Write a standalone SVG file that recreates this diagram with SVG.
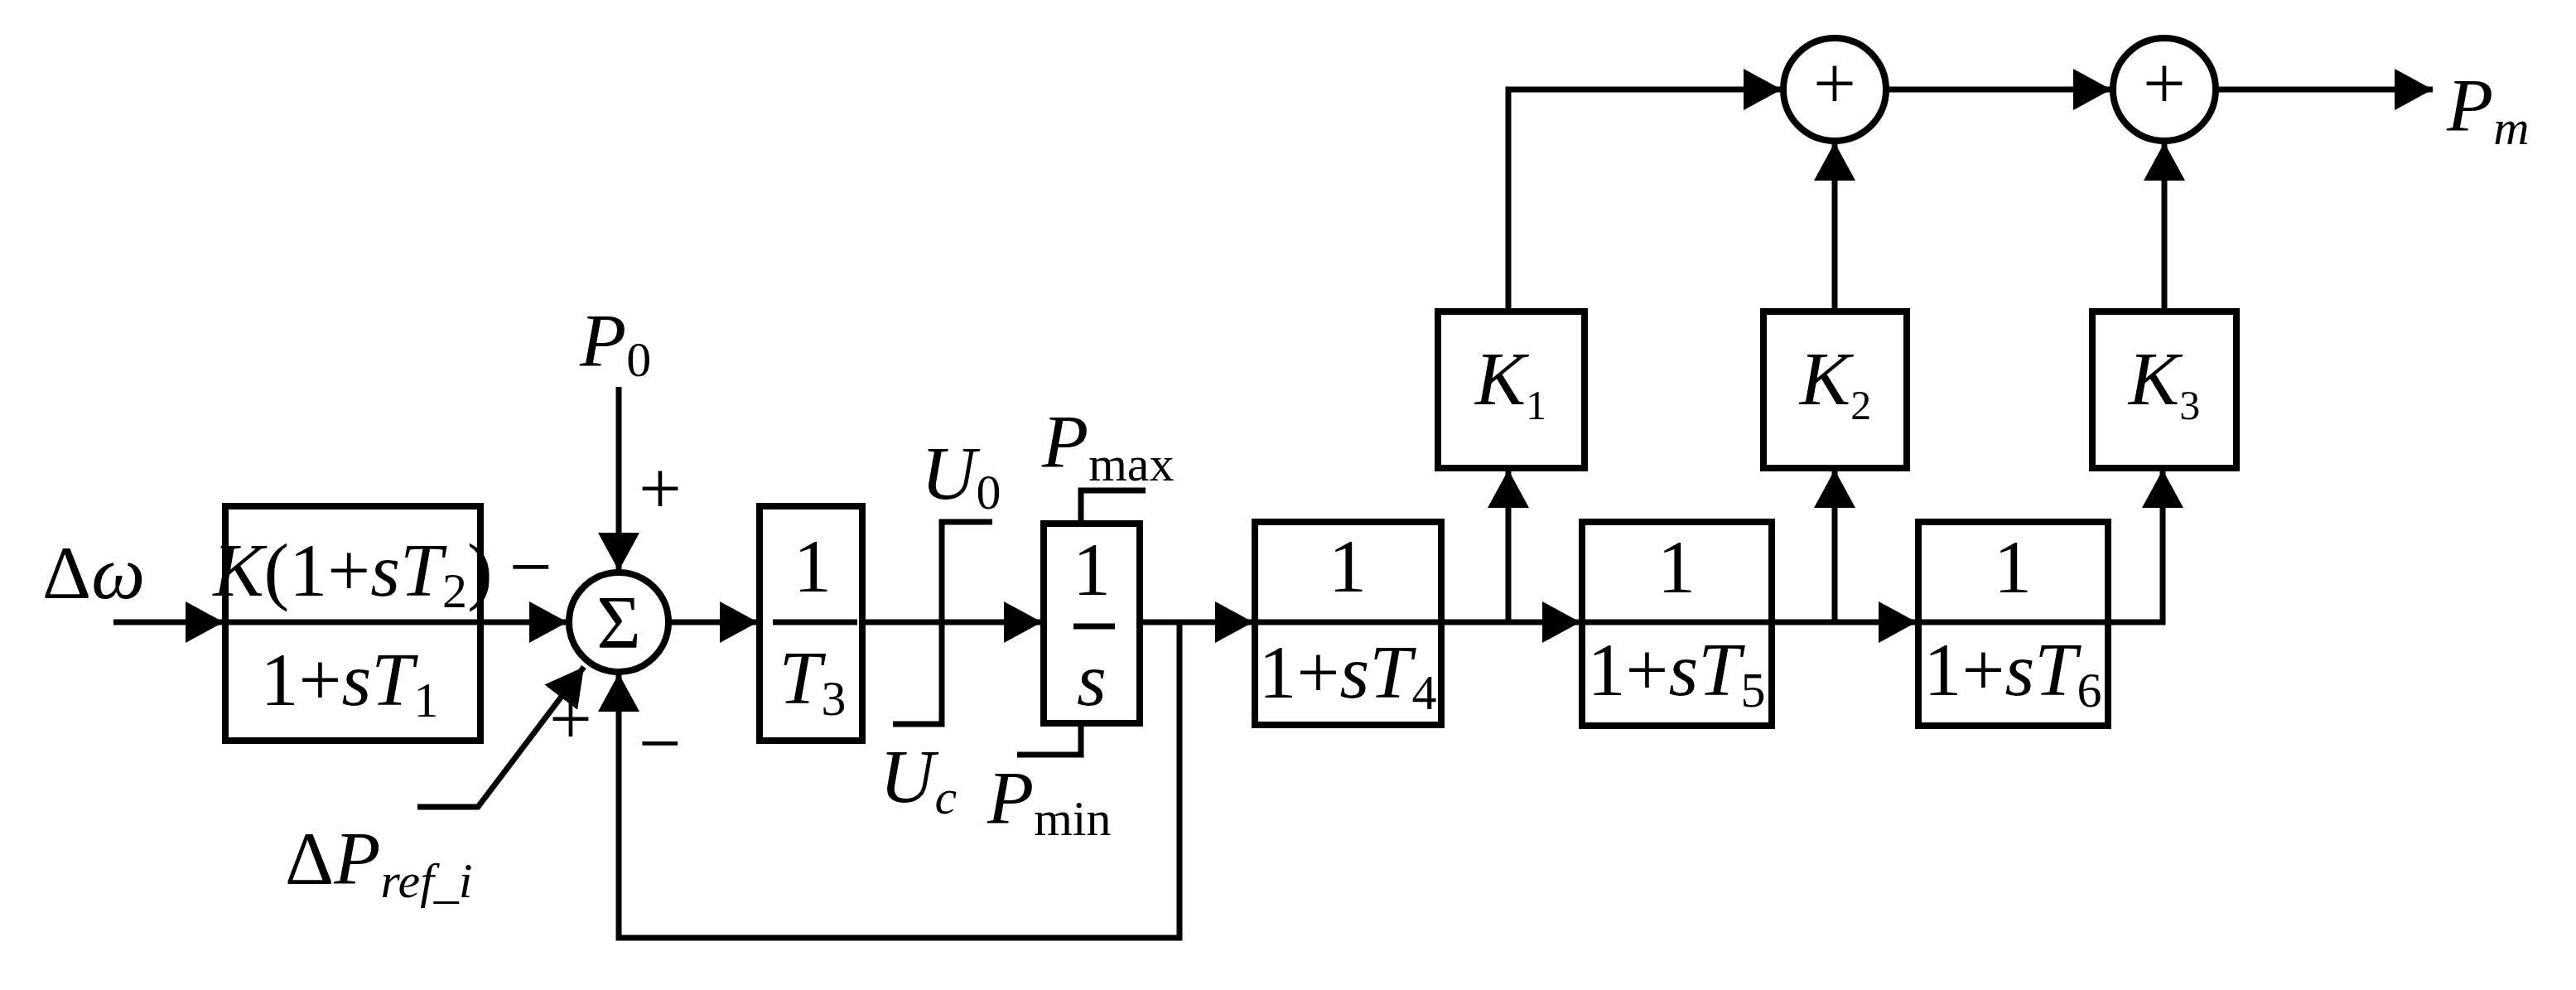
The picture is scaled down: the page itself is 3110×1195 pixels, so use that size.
<svg xmlns="http://www.w3.org/2000/svg" width="3110" height="1195" viewBox="0 0 3110 1195">
<style>
.b{fill:none;stroke:#000;stroke-width:8}
.l{fill:none;stroke:#000;stroke-width:7}
.t{font-family:"Liberation Serif",serif;font-size:92px;fill:#000}
.i{font-style:italic}
.s{font-size:60px}
.k{font-size:50px}
</style>
<defs>
<marker id="a" markerUnits="userSpaceOnUse" markerWidth="48" markerHeight="50" refX="46" refY="25" orient="auto"><path d="M0,0 L46,25 L0,50 Z" fill="#000"/></marker>
</defs>
<rect width="3110" height="1195" fill="#fff"/>
<g id="connectors">
<path class="l" d="M137,751 H270" marker-end="url(#a)"/>
<path class="l" d="M580,751 H685" marker-end="url(#a)"/>
<path class="l" d="M747,467 V689" marker-end="url(#a)"/>
<path class="l" d="M504,974 H577 L705,805" marker-end="url(#a)"/>
<path class="l" d="M1424,751 V1132 H747 V813" marker-end="url(#a)"/>
<path class="l" d="M807,751 H915" marker-end="url(#a)"/>
<path class="l" d="M1041,751 H1258" marker-end="url(#a)"/>
<path class="l" d="M1376,751 H1513" marker-end="url(#a)"/>
<path class="l" d="M1740,751 H1908" marker-end="url(#a)"/>
<path class="l" d="M2139,751 H2314" marker-end="url(#a)"/>
<path class="l" d="M1821,751 V567" marker-end="url(#a)"/>
<path class="l" d="M2215,751 V567" marker-end="url(#a)"/>
<path class="l" d="M2545,751 H2611 V567" marker-end="url(#a)"/>
<path class="l" d="M1821,376 V108 H2151" marker-end="url(#a)"/>
<path class="l" d="M2215,376 V172" marker-end="url(#a)"/>
<path class="l" d="M2613,376 V172" marker-end="url(#a)"/>
<path class="l" d="M2278,108 H2549" marker-end="url(#a)"/>
<path class="l" d="M2676,108 H2937" marker-end="url(#a)"/>
</g>
<g id="input" class="t"><text x="51" y="722" class="t">Δ<tspan class="i">ω</tspan></text></g>
<g id="lead">
<rect class="b" x="272" y="611" width="308" height="283"/>
<line class="l" x1="272" y1="751" x2="580" y2="751"/>
<text class="t" x="426" y="719" text-anchor="middle"><tspan class="i">K</tspan>(1+<tspan class="i">sT</tspan><tspan class="s" dy="14">2</tspan><tspan dy="-14">)</tspan></text>
<text class="t" x="422" y="851" text-anchor="middle">1+<tspan class="i">sT</tspan><tspan class="s" dy="14">1</tspan></text>
</g>
<g id="sum">
<circle class="b" cx="747" cy="751" r="60"/>
<text class="t" x="747" y="782" text-anchor="middle" font-size="86">Σ</text>
<text class="t" x="700" y="442"><tspan class="i">P</tspan><tspan class="s" dy="12">0</tspan></text>
<text class="t" x="797" y="620" text-anchor="middle" font-size="70">+</text>
<text class="t" x="641" y="715" text-anchor="middle" font-size="70">−</text>
<text class="t" x="689" y="898" text-anchor="middle" font-size="70">+</text>
<text class="t" x="797" y="928" text-anchor="middle" font-size="70">−</text>
<text class="t" x="344" y="1067">Δ<tspan class="i">P</tspan><tspan class="i s" dy="16">ref_i</tspan></text>
</g>
<g id="gain-t3">
<rect class="b" x="917" y="611" width="124" height="283"/>
<line class="l" x1="933" y1="751" x2="1035" y2="751"/>
<text class="t" x="981" y="714" text-anchor="middle">1</text>
<text class="t" x="981" y="849" text-anchor="middle"><tspan class="i">T</tspan><tspan class="s" dy="14">3</tspan></text>
</g>
<g id="limiter">
<path class="l" d="M1078,874 H1137 V630 H1198"/>
<text class="t" x="1112" y="602"><tspan class="i">U</tspan><tspan class="s" dy="12">0</tspan></text>
<text class="t" x="1062" y="968"><tspan class="i">U</tspan><tspan class="i s" dy="14">c</tspan></text>
</g>
<g id="integrator">
<rect class="b" x="1260" y="632" width="116" height="241"/>
<line class="l" x1="1296" y1="756" x2="1346" y2="756"/>
<text class="t" x="1318" y="718" text-anchor="middle">1</text>
<text class="t i" x="1318" y="851" text-anchor="middle">s</text>
<path class="l" d="M1305,632 V592 H1383"/>
<path class="l" d="M1305,873 V911 H1228"/>
<text class="t" x="1258" y="564"><tspan class="i">P</tspan><tspan class="s" dy="16">max</tspan></text>
<text class="t" x="1192" y="994"><tspan class="i">P</tspan><tspan class="s" dy="14">min</tspan></text>
</g>
<g id="lag4">
<rect class="b" x="1515" y="630" width="225" height="245"/>
<line class="l" x1="1515" y1="751" x2="1740" y2="751"/>
<text class="t" x="1627" y="714" text-anchor="middle">1</text>
<text class="t" x="1627" y="842" text-anchor="middle">1+<tspan class="i">sT</tspan><tspan class="s" dy="14">4</tspan></text>
</g>
<g id="lag5">
<rect class="b" x="1910" y="630" width="229" height="246"/>
<line class="l" x1="1910" y1="751" x2="2139" y2="751"/>
<text class="t" x="2024" y="715" text-anchor="middle">1</text>
<text class="t" x="2024" y="839" text-anchor="middle">1+<tspan class="i">sT</tspan><tspan class="s" dy="14">5</tspan></text>
</g>
<g id="lag6">
<rect class="b" x="2316" y="630" width="229" height="246"/>
<line class="l" x1="2316" y1="751" x2="2545" y2="751"/>
<text class="t" x="2430" y="715" text-anchor="middle">1</text>
<text class="t" x="2430" y="839" text-anchor="middle">1+<tspan class="i">sT</tspan><tspan class="s" dy="14">6</tspan></text>
</g>
<g id="k1"><rect class="b" x="1736" y="376" width="177" height="189"/><text class="t" x="1824" y="488" text-anchor="middle"><tspan class="i">K</tspan><tspan class="k" dy="18">1</tspan></text></g>
<g id="k2"><rect class="b" x="2129" y="376" width="173" height="189"/><text class="t" x="2216" y="488" text-anchor="middle"><tspan class="i">K</tspan><tspan class="k" dy="18">2</tspan></text></g>
<g id="k3"><rect class="b" x="2526" y="376" width="174" height="189"/><text class="t" x="2613" y="488" text-anchor="middle"><tspan class="i">K</tspan><tspan class="k" dy="18">3</tspan></text></g>
<g id="add1"><circle class="b" cx="2215" cy="108" r="62"/><text class="t" x="2215" y="131" text-anchor="middle" font-size="76">+</text></g>
<g id="add2"><circle class="b" cx="2613" cy="108" r="62"/><text class="t" x="2613" y="131" text-anchor="middle" font-size="76">+</text></g>
<g id="output"><text class="t" x="2954" y="158"><tspan class="i">P</tspan><tspan class="i s" dy="16">m</tspan></text></g>
</svg>
